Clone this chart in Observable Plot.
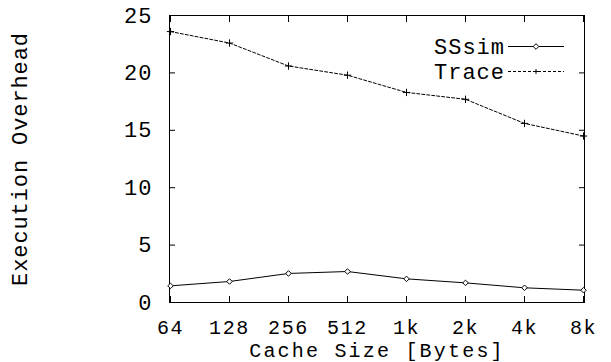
<!DOCTYPE html>
<html>
<head>
<meta charset="utf-8">
<script src="https://cdn.jsdelivr.net/npm/d3@7"></script>
<script src="https://cdn.jsdelivr.net/npm/@observablehq/plot@0.6"></script>
<style>
  html, body { margin: 0; padding: 0; background: #fff; }
  svg { font-family: "Liberation Mono", "DejaVu Sans Mono", monospace; }
</style>
</head>
<body>
<div id="chart"></div>
<script>
const cacheSizes = ["64", "128", "256", "512", "1k", "2k", "4k", "8k"];
const ssSim = [1.45, 1.83, 2.53, 2.7, 2.06, 1.71, 1.28, 1.07];
const trace = [23.6, 22.6, 20.6, 19.8, 18.3, 17.7, 15.6, 14.5];
const yTicks = [0, 5, 10, 15, 20, 25];
const seriesNames = ["SSsim", "Trace"];

const rows = [];
cacheSizes.forEach((c, i) => {
  rows.push({size: c, value: ssSim[i], series: seriesNames[0]});
  rows.push({size: c, value: trace[i], series: seriesNames[1]});
});
const ssRows = rows.filter(d => d.series === "SSsim");
const trRows = rows.filter(d => d.series === "Trace");

const chart = Plot.plot({
  width: 611,
  height: 362,
  marginLeft: 169,
  marginRight: 27,
  marginTop: 15,
  marginBottom: 60,
  style: {fontFamily: "Liberation Mono, monospace", fontSize: "21px", color: "#000", background: "#fff", overflow: "visible"},
  x: {type: "point", domain: cacheSizes, padding: 0},
  y: {domain: [0, 25]},
  marks: [
    Plot.frame({stroke: "#000", strokeWidth: 1}),
    Plot.axisX({anchor: "bottom", tickSize: -6, tickPadding: 23, label: null, fontSize: 20}),
    Plot.axisX({anchor: "bottom", tickSize: 0, tickFormat: () => "", label: "Cache Size [Bytes]", labelAnchor: "center", labelOffset: 54, fontSize: 20}),
    Plot.axisX({anchor: "top", tickSize: -6, tickFormat: () => "", label: null}),
    Plot.axisY({anchor: "left", ticks: yTicks, tickSize: -6, tickPadding: 23, label: "Execution Overhead", labelAnchor: "center", labelArrow: "none", labelOffset: 158, fontSize: 22}),
    Plot.axisY({anchor: "right", ticks: yTicks, tickSize: -6, tickFormat: () => "", label: null}),
    Plot.line(ssRows, {x: "size", y: "value", stroke: "#000", strokeWidth: 1}),
    Plot.dot(ssRows, {x: "size", y: "value", symbol: "diamond2", r: 2.5, stroke: "#000", fill: "#fff", strokeWidth: 1}),
    Plot.line(trRows, {x: "size", y: "value", stroke: "#000", strokeWidth: 1, strokeDasharray: "3,2"}),
    Plot.dot(trRows, {x: "size", y: "value", symbol: "plus", r: 2.5, stroke: "#000", strokeWidth: 1})
  ]
});

const svg = d3.select(chart);
// widen monospace glyph advance to match the reference's wide Courier text
svg.selectAll('[aria-label="x-axis tick label"] text').style("letter-spacing", "1.6px");
svg.selectAll('[aria-label="y-axis tick label"] text').style("letter-spacing", "1px");
svg.selectAll('[aria-label="x-axis label"] text').style("letter-spacing", "2.2px");
svg.selectAll('[aria-label="y-axis label"] text').style("letter-spacing", "0.9px");

// Legend (gnuplot style, inside top-right)
const legendItems = [
  {name: seriesNames[0], dash: null, symbol: "diamond"},
  {name: seriesNames[1], dash: "3,2", symbol: "plus"}
];
const g = svg.append("g").attr("class", "legend");
legendItems.forEach((it, i) => {
  const y = 46.5 + i * 25;
  g.append("text").attr("x", 505).attr("y", y).attr("dy", "0.35em")
    .attr("text-anchor", "end").attr("font-size", 22).style("letter-spacing", "1px").attr("fill", "#000").text(it.name);
  g.append("line").attr("x1", 508).attr("x2", 564).attr("y1", y).attr("y2", y)
    .attr("stroke", "#000").attr("stroke-dasharray", it.dash);
  if (it.symbol === "diamond") {
    g.append("path").attr("d", d3.symbol(d3.symbolDiamond2, 20)()).attr("transform", `translate(536,${y})`)
      .attr("fill", "#fff").attr("stroke", "#000");
  } else {
    g.append("path").attr("d", "M-2.5,0H2.5M0,-2.5V2.5").attr("transform", `translate(536,${y})`)
      .attr("stroke", "#000").attr("fill", "none");
  }
});

document.getElementById("chart").appendChild(chart);
</script>
</body>
</html>
